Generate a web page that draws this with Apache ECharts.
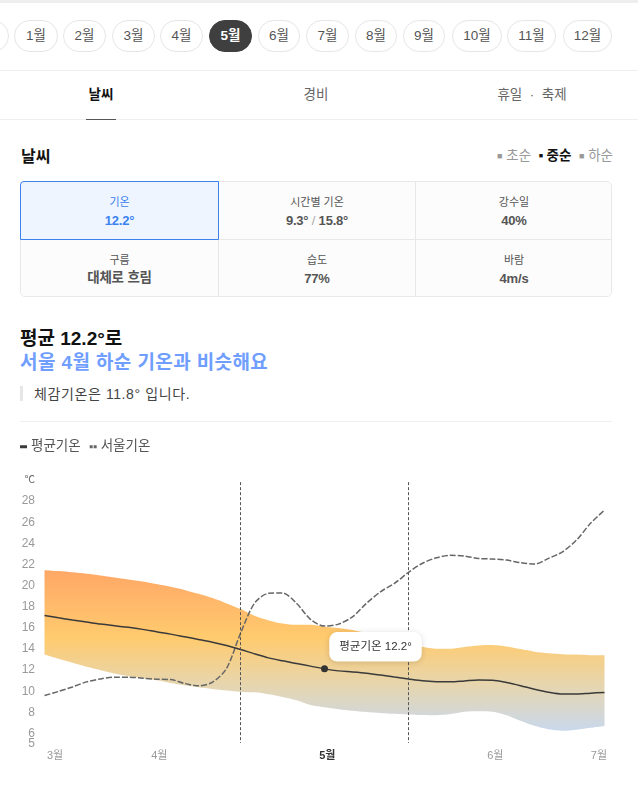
<!DOCTYPE html>
<html>
<head>
<meta charset="utf-8"/>
<title>날씨</title>
<style>
    html,body{margin:0;padding:0;background:#fff;}
    body{width:638px;height:786px;position:relative;overflow:hidden;font-family:"Liberation Sans","Noto Sans CJK KR",sans-serif;color:#333;}
    .abs{position:absolute;white-space:nowrap;}
    .pill{position:absolute;top:20px;height:30px;line-height:30px;border:1px solid #e6e6e6;border-radius:16px;text-align:center;font-size:13.5px;color:#555;box-sizing:content-box;}
    .pill.on{background:#3f3f3f;border-color:#3f3f3f;color:#fff;font-weight:bold;}
    .line{position:absolute;background:#efefef;height:1px;}
    .tab{position:absolute;top:83px;font-size:13.5px;color:#666;transform:translateX(-50%);white-space:nowrap;}
    .cell{position:absolute;box-sizing:border-box;background:#fcfcfc;text-align:center;border-right:1px solid #e8e8e8;border-bottom:1px solid #e8e8e8;}
    .cell .k{position:absolute;left:0;right:0;top:11px;font-size:11px;color:#555;}
    .cell .v{position:absolute;left:0;right:0;top:31px;font-size:13px;font-weight:bold;color:#555;letter-spacing:-0.2px;}
    #chart{position:absolute;left:0;top:430px;width:638px;height:356px;}
</style>
<script src="https://cdn.jsdelivr.net/npm/echarts@6/dist/echarts.min.js"></script>
</head>
<body>
<div class="abs" style="left:0;top:0;width:638px;height:3px;background:#eee;"></div>
<div class="pill" style="left:-36px;width:43px;"></div>
<div id="pills"></div>
<div class="line" style="left:0;width:638px;top:70px;"></div>
<div class="tab" style="left:101px;color:#111;font-weight:bold;">날씨</div>
<div class="tab" style="left:316px;">경비</div>
<div class="tab" style="left:532px;">휴일 &nbsp;·&nbsp; 축제</div>
<div class="line" style="left:0;width:638px;top:119px;"></div>
<div class="abs" style="left:86px;width:30px;top:119px;height:1px;background:#555;"></div>

<div class="abs" style="left:21px;top:143px;font-size:16px;font-weight:bold;color:#111;">날씨</div>
<div class="abs" style="right:25px;top:144px;font-size:13.5px;color:#999;">
    <span style="font-size:9px;vertical-align:1px;">■</span> 초순 &nbsp;<span style="color:#111;font-weight:bold;"><span style="font-size:7px;vertical-align:2px;">■</span> 중순</span> &nbsp;<span style="font-size:9px;vertical-align:1px;">■</span> 하순
</div>

<div class="abs" style="left:20px;top:181px;width:592px;height:116px;border:1px solid #e8e8e8;border-radius:5px;box-sizing:border-box;overflow:hidden;background:#fcfcfc;">
    <div class="cell" style="left:198px;top:0;width:197px;height:58px;"><div class="k">시간별 기온</div><div class="v">9.3° <span style="color:#aaa;font-weight:normal;">/</span> 15.8°</div></div>
    <div class="cell" style="left:395px;top:0;width:196px;height:58px;border-right:0;"><div class="k">강수일</div><div class="v">40%</div></div>
    <div class="cell" style="left:0;top:58px;width:198px;height:57px;border-bottom:0;"><div class="k">구름</div><div class="v" style="top:26px;font-size:13.5px;">대체로 흐림</div></div>
    <div class="cell" style="left:198px;top:58px;width:197px;height:57px;border-bottom:0;"><div class="k">습도</div><div class="v">77%</div></div>
    <div class="cell" style="left:395px;top:58px;width:196px;height:57px;border:0;"><div class="k">바람</div><div class="v">4m/s</div></div>
</div>
<div class="cell" style="left:20px;top:181px;width:199px;height:59px;background:#eef5ff;border:1px solid #3b82f0;border-radius:4px 0 0 0;">
    <div class="k" style="color:#3b82f0;">기온</div><div class="v" style="color:#3b82f0;">12.2°</div>
</div>

<div class="abs" style="left:20px;top:323px;font-size:19px;font-weight:bold;color:#111;">평균 12.2°로</div>
<div class="abs" style="left:20px;top:347px;font-size:19px;font-weight:bold;color:#6f9eff;letter-spacing:0.4px;">서울 4월 하순 기온과 비슷해요</div>
<div class="abs" style="left:20px;top:386px;width:3px;height:15px;background:#e6e6e6;"></div>
<div class="abs" style="left:34px;top:383px;font-size:14px;color:#444;letter-spacing:0.6px;">체감기온은 11.8° 입니다.</div>
<div class="line" style="left:20px;width:592px;top:421px;"></div>

<div id="chart"></div>

<script type="text/javascript">
    // 상단 월 선택
    var monthPills = [['1월',14,44],['2월',63,43],['3월',112,43],['4월',160,43],['5월',209,43],['6월',258,42],
        ['7월',306,43],['8월',355,42],['9월',403,42],['10월',452,50],['11월',507,49],['12월',563,49]];
    var pillHtml = '';
    for (var p = 0; p < monthPills.length; p++) {
        pillHtml += '<div class="pill' + (monthPills[p][0] == '5월' ? ' on' : '') + '" style="left:' + monthPills[p][1] +
            'px;width:' + (monthPills[p][2] - 2) + 'px;">' + monthPills[p][0] + '</div>';
    }
    document.getElementById('pills').innerHTML = pillHtml;

    // 그림에서 읽은 값 (3월 하순 ~ 7월 초순)
    var highs = [21.37,21.28,21.16,21.02,20.87,20.68,20.49,20.30,20.05,19.79,19.50,19.13,18.72,18.22,17.68,17.04,16.61,16.32,16.19,16.19,
        16.00,15.88,15.69,15.40,15.12,14.74,14.46,14.12,13.93,13.93,14.10,14.24,14.27,14.14,13.89,13.65,13.51,13.41,13.37,13.32,13.32];
    var lows = [13.38,12.97,12.59,12.21,11.90,11.58,11.33,11.14,10.95,10.69,10.47,10.28,10.12,9.97,9.84,9.81,9.62,9.36,9.05,8.61,
        8.39,8.20,8.06,7.94,7.85,7.77,7.70,7.65,7.63,7.74,7.96,8.01,7.96,7.63,7.11,6.63,6.30,6.16,6.26,6.44,6.62];
    var avgTemps = [17.08,16.85,16.64,16.45,16.26,16.10,15.95,15.76,15.53,15.31,15.06,14.81,14.55,14.24,13.86,13.44,13.06,12.78,12.53,12.28,
        12.02,11.83,11.73,11.61,11.44,11.25,11.07,10.90,10.81,10.79,10.88,10.97,10.95,10.73,10.43,10.09,9.81,9.64,9.64,9.72,9.78];
    var seoulTemps = [9.50,9.88,10.31,10.79,11.07,11.23,11.23,11.14,11.04,11.01,10.64,10.41,10.76,12.06,15.38,18.23,19.17,19.20,18.23,16.71,
        16.07,16.26,16.95,18.23,19.32,20.12,21.16,22.02,22.54,22.77,22.70,22.48,22.42,22.32,22.07,21.94,22.48,23.11,24.22,25.80,27.06];

    var yTicks = [6,8,10,12,14,16,18,20,22,24,26,28,30];
    var yBottomTick = [5];
    var monthTicks = [0.75,8.2,20.2,32.2,39.6];
    var monthNames = ['3월','4월','5월','6월','7월'];
    var currentIndex = 20;
    var currentLabel = '평균기온 12.2°';
    var guideLines = [14,26];

    var periods = [];
    var bandDiff = [];
    for (var i = 0; i < highs.length; i++) {
        periods.push(String(i));
        bandDiff.push(+(highs[i] - lows[i]).toFixed(2));
    }

    // y축 공통 설정 (5와 6 라벨이 겹쳐 숨겨져서 5는 별도 축으로 그림)
    function tempAxis(ticks) {
        return {
            type: 'value',
            position: 'left',
            min: 5,
            max: 30,
            splitLine: { show: false },
            axisLine: { show: false },
            axisTick: { show: false },
            axisLabel: {
                customValues: ticks,
                showMinLabel: true,
                showMaxLabel: true,
                margin: 9.5,
                fontSize: 12,
                padding: [2, 0, 0, 0],
                color: '#999',
                formatter: function (val) {
                    return val == 30 ? '{u|℃}' : String(val);
                },
                rich: { u: { fontSize: 10.5, color: '#666' } }
            }
        };
    }

    var fontName = '"Liberation Sans","Noto Sans CJK KR",sans-serif';
    var myChart = echarts.init(document.getElementById('chart'));
    var option = {
        animation: false,
        textStyle: { fontFamily: fontName },
        legend: {
            left: 15,
            top: 5,
            itemGap: 9,
            itemWidth: 7,
            itemHeight: 3,
            textStyle: { fontSize: 13.5, color: '#555', padding: [0,0,0,-1] },
            data: [
                { name: '평균기온', icon: 'rect', itemStyle: { color: '#3a3a3a' } },
                { name: '서울기온', icon: 'path://M0 0h3v3h-3z M4 0h3v3h-3z', itemStyle: { color: '#666' } }
            ]
        },
        grid: { left: 44.5, right: 33.5, top: 49, bottom: 43 },
        xAxis: [
            {
                // 데이터용 축
                type: 'category',
                boundaryGap: false,
                data: periods,
                axisLine: { show: false },
                axisTick: { show: false },
                axisLabel: { show: false }
            },
            {
                // 월 라벨용 축
                type: 'value',
                position: 'bottom',
                min: 0,
                max: 40,
                splitLine: { show: false },
                axisLine: { show: false },
                axisTick: { show: false },
                axisLabel: {
                    customValues: monthTicks,
                    margin: 7,
                    fontSize: 11,
                    color: '#999',
                    formatter: function (val) {
                        var name = monthNames[monthTicks.indexOf(val)];
                        return name == '5월' ? '{on|' + name + '}' : name;
                    },
                    rich: { on: { fontSize: 11, fontWeight: 'bold', color: '#333' } }
                }
            }
        ],
        yAxis: [tempAxis(yTicks), tempAxis(yBottomTick)],
        series: [
            {
                name: '최저',
                type: 'line',
                stack: 'band',
                smooth: 0.3,
                symbol: 'none',
                lineStyle: { opacity: 0 },
                data: lows
            },
            {
                name: '범위',
                type: 'line',
                stack: 'band',
                smooth: 0.3,
                symbol: 'none',
                lineStyle: { opacity: 0 },
                areaStyle: {
                    opacity: 1,
                    color: new echarts.graphic.LinearGradient(0, 0, 0, 1, [
                        { offset: 0, color: '#ffa766' },
                        { offset: 0.42, color: '#ffcb6e' },
                        { offset: 0.72, color: '#e6d6b0' },
                        { offset: 1, color: '#c9d8ec' }
                    ])
                },
                data: bandDiff
            },
            {
                name: '서울기온',
                type: 'line',
                smooth: 0.3,
                symbol: 'none',
                z: 3,
                lineStyle: { color: '#666', width: 1.5, type: [6, 2] },
                itemStyle: { color: '#666' },
                data: seoulTemps,
                markLine: {
                    silent: true,
                    symbol: 'none',
                    animation: false,
                    label: { show: false },
                    lineStyle: { color: '#555', width: 1, type: [3, 2] },
                    data: guideLines.map(function (x) {
                        return [{ coord: [x, 29.7] }, { coord: [x, 5] }];
                    })
                }
            },
            {
                name: '평균기온',
                type: 'line',
                smooth: 0.3,
                symbol: 'none',
                z: 4,
                lineStyle: { color: '#3a3a3a', width: 1.5 },
                itemStyle: { color: '#3a3a3a' },
                data: avgTemps,
                markPoint: {
                    silent: true,
                    symbol: 'circle',
                    symbolSize: 7,
                    itemStyle: { color: '#333' },
                    label: {
                        show: true,
                        position: 'inside',
                        offset: [51, -22],
                        formatter: currentLabel,
                        fontSize: 11.5,
                        color: '#333',
                        backgroundColor: '#fff',
                        borderRadius: 8,
                        padding: [9, 10],
                        shadowColor: 'rgba(0,0,0,0.15)',
                        shadowBlur: 6,
                        shadowOffsetY: 1
                    },
                    data: [{ coord: [currentIndex, avgTemps[currentIndex]] }]
                }
            }
        ]
    };
    myChart.setOption(option);
</script>
</body>
</html>
